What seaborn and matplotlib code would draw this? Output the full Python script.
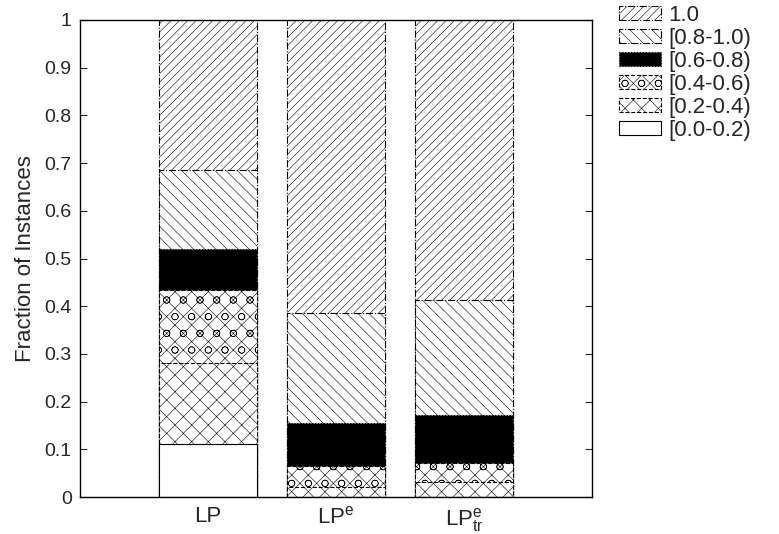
import matplotlib
matplotlib.use('Agg')
import matplotlib.pyplot as plt
from matplotlib.patches import Patch
import seaborn as sns

# data (fraction of instances per bin, bottom to top)
methods = ['LP', r'LP$^{e}$', r'LP$^{e}_{tr}$']
bins = ['[0.0-0.2)', '[0.2-0.4)', '[0.4-0.6)', '[0.6-0.8)', '[0.8-1.0)', '1.0']
frac_00_02 = [0.111, 0.000, 0.000]
frac_02_04 = [0.169, 0.022, 0.032]
frac_04_06 = [0.154, 0.043, 0.040]
frac_06_08 = [0.086, 0.091, 0.100]
frac_08_10 = [0.165, 0.229, 0.241]
frac_10 = [0.315, 0.615, 0.587]

series = [frac_00_02, frac_02_04, frac_04_06, frac_06_08, frac_08_10, frac_10]

# styles per bin (same order as bins)
hatches = ['', 'xx', 'xxo', '', '\\\\\\', '////']
faces = ['white', 'white', 'white', 'black', 'white', 'white']
lstyles = ['-', '--', '--', ':', '-.', '-.']

sns.set_style('white')
plt.rcParams['font.family'] = ['Liberation Sans', 'DejaVu Sans']
plt.rcParams['mathtext.default'] = 'regular'
plt.rcParams['hatch.linewidth'] = 0.4

fig = plt.figure(figsize=(7.79, 5.34), dpi=100)
ax = fig.add_axes([80 / 779, 37 / 534, 512 / 779, 477 / 534])

# cumulative tops, drawn tallest first so lower segments cover them
cum = []
total = [0.0, 0.0, 0.0]
for s in series:
    total = [t + v for t, v in zip(total, s)]
    cum.append(total)

for i in reversed(range(len(bins))):
    sns.barplot(x=methods, y=cum[i], color=faces[i], saturation=1,
                hatch=hatches[i], edgecolor='black', linewidth=0.8,
                linestyle=lstyles[i], width=0.76, ax=ax)

ax.set_xlim(-1, 3)
ax.set_ylim(0, 1)
yt = [0, 0.1, 0.2, 0.3, 0.4, 0.5, 0.6, 0.7, 0.8, 0.9, 1]
ax.set_yticks(yt)
ax.set_yticklabels(['0', '0.1', '0.2', '0.3', '0.4', '0.5', '0.6', '0.7', '0.8', '0.9', '1'])
ax.tick_params(axis='y', direction='in', left=True, right=True, length=5,
               labelsize=14, pad=6)
ax.tick_params(axis='x', bottom=False, labelsize=16, pad=3)
ax.set_ylabel('Fraction of Instances', fontsize=16, labelpad=6)
for sp in ax.spines.values():
    sp.set_visible(True)
    sp.set_color('black')
    sp.set_linewidth(1)

handles = []
for i in reversed(range(len(bins))):
    handles.append(Patch(facecolor=faces[i], edgecolor='black', hatch=hatches[i],
                         linestyle=lstyles[i], linewidth=0.8, label=bins[i]))
fig.legend(handles=handles, loc='upper left', bbox_to_anchor=(619 / 779, 1 - 5 / 534),
           frameon=False, fontsize=16, borderpad=0, borderaxespad=0,
           labelspacing=0.09, handlelength=1.9, handleheight=0.6, handletextpad=0.3)

fig.savefig('out.png', dpi=100)
